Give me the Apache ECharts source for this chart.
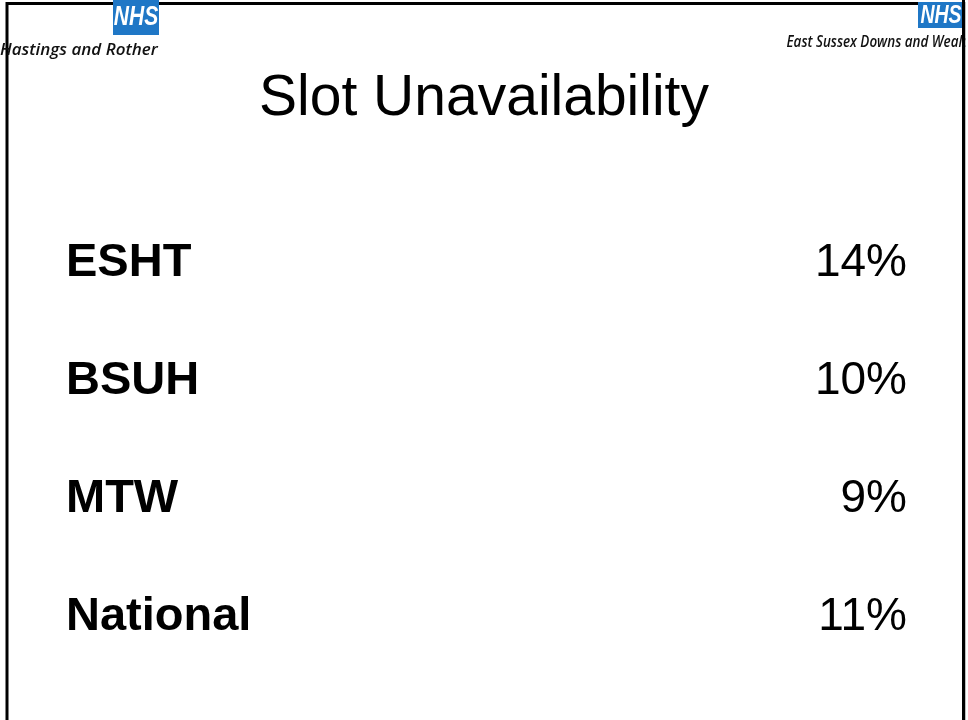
<!DOCTYPE html>
<html>
<head>
<meta charset="utf-8">
<script src="https://cdn.jsdelivr.net/npm/echarts@6/dist/echarts.min.js"></script>
<style>
  html, body { margin: 0; padding: 0; background: #fff; }
  #chart { width: 968px; height: 720px; }
</style>
</head>
<body>
<div id="chart"></div>
<script>
// trusts and their slot unavailability (%)
const trusts = ['ESHT', 'BSUH', 'MTW', 'National'];
const unavailability = [14, 10, 9, 11];
const titleText = 'Slot Unavailability';
const leftOrg = 'Hastings and Rother';
const rightOrg = 'East Sussex Downs and Weald';

const nhsBlue = '#1f77c6';
const chart = echarts.init(document.getElementById('chart'));

const option = {
  animation: false,
  backgroundColor: '#fff',
  title: {
    text: titleText,
    left: 'center',
    top: 66,
    textStyle: {
      fontFamily: 'Liberation Sans, Arial, sans-serif',
      fontWeight: 'normal',
      fontSize: 57,
      color: '#000'
    }
  },
  grid: { left: 66, right: 61, top: 204, bottom: 44 },
  xAxis: {
    type: 'value',
    min: 0,
    max: 20,
    show: false
  },
  yAxis: {
    type: 'category',
    data: trusts,
    inverse: true,
    axisLine: { show: false },
    axisTick: { show: false },
    splitLine: { show: false },
    axisLabel: {
      align: 'left',
      margin: 0,
      fontFamily: 'Liberation Sans, Arial, sans-serif',
      fontWeight: 'bold',
      fontSize: 47,
      color: '#000'
    }
  },
  series: [
    {
      type: 'scatter',
      symbolSize: 1,
      itemStyle: { color: 'rgba(0,0,0,0)' },
      emphasis: { disabled: true },
      data: unavailability.map((v, i) => [v, trusts[i]]),
      label: {
        show: true,
        position: 'inside',
        formatter: p => p.value[0] + '%',
        fontFamily: 'Liberation Sans, Arial, sans-serif',
        fontSize: 46,
        color: '#000',
        opacity: 1,
        textBorderWidth: 0
      },
      // percentages sit in one right-aligned column
      labelLayout: () => ({ x: 907, align: 'right', verticalAlign: 'middle' })
    }
  ],
  graphic: [
    {
      type: 'rect',
      shape: { x: 7, y: 3.5, width: 957, height: 800 },
      style: { fill: 'none', stroke: '#000', lineWidth: 3 },
      z: 1
    },
    // left logo
    {
      type: 'rect',
      shape: { x: 113, y: 0, width: 46, height: 35 },
      style: { fill: nhsBlue },
      z: 5
    },
    {
      type: 'text',
      x: 136, y: 18,
      scaleX: 0.78,
      style: {
        text: 'NHS', fill: '#fff', align: 'center', verticalAlign: 'middle',
        font: 'italic bold 27px "Liberation Sans", Arial, sans-serif'
      },
      z: 6
    },
    {
      type: 'text',
      x: 0, y: 50,
      style: {
        text: leftOrg, fill: '#111', align: 'left', verticalAlign: 'middle',
        font: 'italic 600 17px "Open Sans", sans-serif'
      },
      z: 6
    },
    // right logo
    {
      type: 'rect',
      shape: { x: 918, y: 2, width: 46, height: 26 },
      style: { fill: nhsBlue },
      z: 5
    },
    {
      type: 'text',
      x: 970, y: 42,
      scaleX: 0.84,
      style: {
        text: rightOrg, fill: '#111', align: 'right', verticalAlign: 'middle',
        font: 'italic 600 16px "Open Sans", sans-serif'
      },
      z: 6
    },
    {
      type: 'text',
      x: 941, y: 16,
      scaleX: 0.78,
      style: {
        text: 'NHS', fill: '#fff', align: 'center', verticalAlign: 'middle',
        font: 'italic bold 25px "Liberation Sans", Arial, sans-serif'
      },
      z: 6
    },
    {
      type: 'rect',
      shape: { x: 965.5, y: 0, width: 3, height: 720 },
      style: { fill: '#fff' },
      z: 7
    },
    {
      type: 'rect',
      shape: { x: 962, y: 0, width: 3, height: 720 },
      style: { fill: '#000' },
      z: 7
    }
  ]
};

chart.setOption(option);
</script>
</body>
</html>
